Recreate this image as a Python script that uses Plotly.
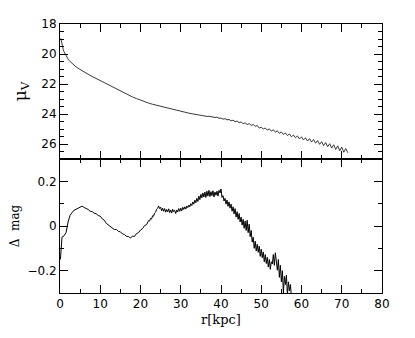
import plotly.graph_objects as go

# Surface brightness profile (top panel)
r_mu = [0.2, 0.4, 0.6, 0.8, 1.0, 1.25, 1.5, 1.75, 2.0, 2.5, 3.0, 3.5, 4.0, 4.5, 5.0,
        6, 7, 8, 9, 10, 11, 12, 13, 14, 15, 16, 17, 18, 19, 20, 21, 22, 23, 24, 25,
        26, 27, 28, 29, 30, 31, 32, 33, 34, 35,
        35.5, 36, 36.5, 37, 37.5, 38, 38.5, 39, 39.5, 40, 40.5, 41, 41.5, 42, 42.5,
        43, 43.5, 44, 44.5, 45, 45.5, 46, 46.5, 47, 47.5, 48, 48.5, 49, 49.5, 50,
        50.5, 51, 51.5, 52, 52.5, 53, 53.5, 54, 54.5, 55, 55.5, 56, 56.5, 57, 57.5,
        58, 58.5, 59, 59.5, 60, 60.5, 61, 61.5, 62, 62.5, 63, 63.5, 64, 64.5, 65,
        65.5, 66, 66.5, 67, 67.5, 68, 68.5, 69, 69.5, 70, 70.5, 71, 71.5]
mu_v = [18.95, 19.25, 19.50, 19.70, 19.85, 20.00, 20.12, 20.24, 20.34, 20.50, 20.64,
        20.76, 20.86, 20.95, 21.04,
        21.20, 21.35, 21.50, 21.64, 21.78, 21.92, 22.06, 22.20, 22.34, 22.48, 22.61,
        22.74, 22.86, 22.97, 23.08, 23.18, 23.27, 23.35, 23.42, 23.49, 23.56, 23.63,
        23.70, 23.77, 23.84, 23.89, 23.94, 23.99, 24.04, 24.08,
        24.13, 24.12, 24.16, 24.15, 24.19, 24.18, 24.23, 24.21, 24.28, 24.27, 24.34,
        24.31, 24.39, 24.36, 24.45, 24.41, 24.51, 24.47, 24.57, 24.53, 24.64, 24.59,
        24.70, 24.64, 24.76, 24.70, 24.82, 24.76, 24.94, 24.88,
        25.00, 24.93, 25.07, 24.99, 25.14, 25.05, 25.21, 25.12, 25.29, 25.19, 25.36,
        25.26, 25.43, 25.33, 25.52, 25.40, 25.58, 25.46, 25.66, 25.52, 25.73, 25.58,
        25.80, 25.64, 25.87, 25.70, 25.94, 25.77, 26.02, 25.84, 26.10, 25.90, 26.18,
        25.98, 26.27, 26.05, 26.36, 26.12, 26.45, 26.20, 26.55, 26.30, 26.58]

# Residuals (bottom panel)
r_dm = [0.1, 0.3, 0.5, 1.0, 1.5, 2.0, 2.5, 3.0, 3.5, 4.0, 4.5, 5.0, 5.5, 6.0, 6.5,
        7.0, 7.5, 8.0, 8.5, 9.0, 9.5, 10.0, 10.5, 11.0, 11.5, 12.0, 12.5, 13.0, 13.5,
        14.0, 14.5, 15.0, 15.5, 16.0, 16.5, 17.0, 17.5, 18.0, 18.5, 19.0, 19.5, 20.0,
        20.5, 21.0, 21.5, 22.0,
        22.25, 22.5, 22.75, 23.0, 23.25, 23.5, 23.75, 24.0, 24.25, 24.5, 24.75, 25.0,
        25.25, 25.5, 25.75, 26.0, 26.25, 26.5, 26.75, 27.0, 27.25, 27.5, 27.75, 28.0,
        28.25, 28.5, 28.75, 29.0, 29.25, 29.5, 29.75, 30.0, 30.25, 30.5, 30.75, 31.0,
        31.25, 31.5, 31.75, 32.0, 32.25, 32.5, 32.75, 33.0, 33.25, 33.5, 33.75, 34.0,
        34.25, 34.5, 34.75, 35.0, 35.25, 35.5, 35.75, 36.0, 36.25, 36.5, 36.75, 37.0,
        37.25, 37.5, 37.75, 38.0, 38.25, 38.5, 38.75, 39.0, 39.25, 39.5, 39.75, 40.0,
        40.25, 40.5, 40.75, 41.0, 41.25, 41.5, 41.75, 42.0, 42.25, 42.5, 42.75, 43.0,
        43.25, 43.5, 43.75, 44.0, 44.25, 44.5, 44.75, 45.0, 45.25, 45.5, 45.75, 46.0,
        46.25, 46.5, 46.75, 47.0, 47.25, 47.5, 47.75, 48.0, 48.25, 48.5, 48.75, 49.0,
        49.25, 49.5, 49.75, 50.0, 50.25, 50.5, 50.75, 51.0, 51.25, 51.5, 51.75, 52.0,
        52.25, 52.5, 52.75, 53.0, 53.25, 53.5, 53.75, 54.0, 54.25, 54.5, 54.75, 55.0,
        55.25, 55.5, 55.75, 56.0, 56.25, 56.5, 56.75, 57.0, 57.25, 57.5]
delta_mag = [-0.150, -0.080, -0.050, -0.044, -0.030, 0.018, 0.048, 0.060, 0.071,
             0.075, 0.081, 0.084, 0.089, 0.083, 0.079, 0.074, 0.066, 0.065, 0.057,
             0.055, 0.047, 0.044, 0.032, 0.026, 0.012, 0.006, -0.004, -0.008, -0.016,
             -0.015, -0.024, -0.026, -0.035, -0.038, -0.046, -0.047, -0.054, -0.045,
             -0.047, -0.034, -0.030, -0.018, -0.012, 0.002, 0.006, 0.024,
             0.022, 0.034, 0.031, 0.046, 0.044, 0.058, 0.062, 0.075, 0.079, 0.090,
             0.078, 0.084, 0.068, 0.080, 0.066, 0.078, 0.062, 0.074, 0.063, 0.077,
             0.060, 0.072, 0.058, 0.075, 0.064, 0.070, 0.056, 0.072, 0.063, 0.078,
             0.066, 0.080, 0.068, 0.084, 0.074, 0.086, 0.076, 0.090, 0.082, 0.094,
             0.086, 0.100, 0.092, 0.108, 0.098, 0.116, 0.104, 0.124, 0.110, 0.134,
             0.118, 0.142, 0.126, 0.148, 0.130, 0.152, 0.128, 0.156, 0.134, 0.160,
             0.132, 0.154, 0.136, 0.158, 0.130, 0.152, 0.138, 0.156, 0.134, 0.160,
             0.148, 0.166, 0.128, 0.136, 0.112, 0.124, 0.098, 0.116, 0.088, 0.108,
             0.080, 0.098, 0.066, 0.086, 0.054, 0.078, 0.040, 0.064, 0.030, 0.056,
             0.018, 0.040, 0.004, 0.030, -0.010, 0.022, -0.020, 0.026, -0.030, 0.008,
             -0.048, -0.020, -0.072, -0.050, -0.100, -0.068, -0.112, -0.082, -0.118,
             -0.090, -0.136, -0.104, -0.142, -0.116, -0.160, -0.128, -0.168, -0.140,
             -0.184, -0.150, -0.194, -0.160, -0.170, -0.128, -0.176, -0.120, -0.150,
             -0.198, -0.150, -0.230, -0.176, -0.250, -0.200, -0.300, -0.226, -0.262,
             -0.220, -0.310, -0.250, -0.290, -0.262, -0.320]

x_ticks = [0, 10, 20, 30, 40, 50, 60, 70, 80]

serif = "DejaVu Serif"

fig = go.Figure()
fig.add_trace(go.Scatter(x=r_dm, y=delta_mag, mode="lines",
                         line=dict(color="black", width=1), xaxis="x", yaxis="y"))
fig.add_trace(go.Scatter(x=r_mu, y=mu_v, mode="lines",
                         line=dict(color="#222222", width=0.9), xaxis="x2", yaxis="y2"))

# page has an 8px body margin, so the figure is a bit smaller than the window
# axis titles are real axis titles here rather than annotations
fig.update_layout(
    width=407, height=330,
    margin=dict(l=52, r=33, t=16, b=45),
    paper_bgcolor="white", plot_bgcolor="white",
    font=dict(family="DejaVu Sans", size=12, color="black"),
    showlegend=False,
    xaxis=dict(range=[0, 80], tickvals=x_ticks, anchor="y", automargin=False,
               title=dict(text="r[kpc]", standoff=4,
                          font=dict(family=serif, size=13, color="black"))),
    xaxis2=dict(range=[0, 80], tickvals=x_ticks, anchor="y2", showticklabels=False,
                automargin=False),
    yaxis=dict(range=[-0.3, 0.3], domain=[0, 0.498], anchor="x", tick0=0, dtick=0.2,
               automargin=False,
               title=dict(text="Δ  mag", standoff=8,
                          font=dict(family=serif, size=12, color="black"))),
    yaxis2=dict(range=[27, 18], domain=[0.498, 1], anchor="x2", tick0=18, dtick=2,
                automargin=False,
                title=dict(text="μ<sub>V</sub>", standoff=10,
                           font=dict(family=serif, size=17, color="black"))),
)

# ticks set the same way on every axis, inside and mirrored
fig.update_xaxes(ticks="inside", ticklen=8, tickwidth=1, tickcolor="#000000",
                 showline=True, linecolor="#000000", mirror="ticks",
                 minor=dict(dtick=5, ticklen=4, ticks="inside", tickcolor="#000000"))
fig.update_yaxes(ticks="inside", ticklen=8, tickwidth=1, tickcolor="#000000",
                 showline=True, linecolor="#000000", mirror="ticks")
fig.update_layout(
    yaxis_minor=dict(dtick=0.1, ticklen=4, ticks="inside", tickcolor="#000000"),
    yaxis2_minor=dict(dtick=0.5, ticklen=4, ticks="inside", tickcolor="#000000"),
)

fig.write_html("out.html")
